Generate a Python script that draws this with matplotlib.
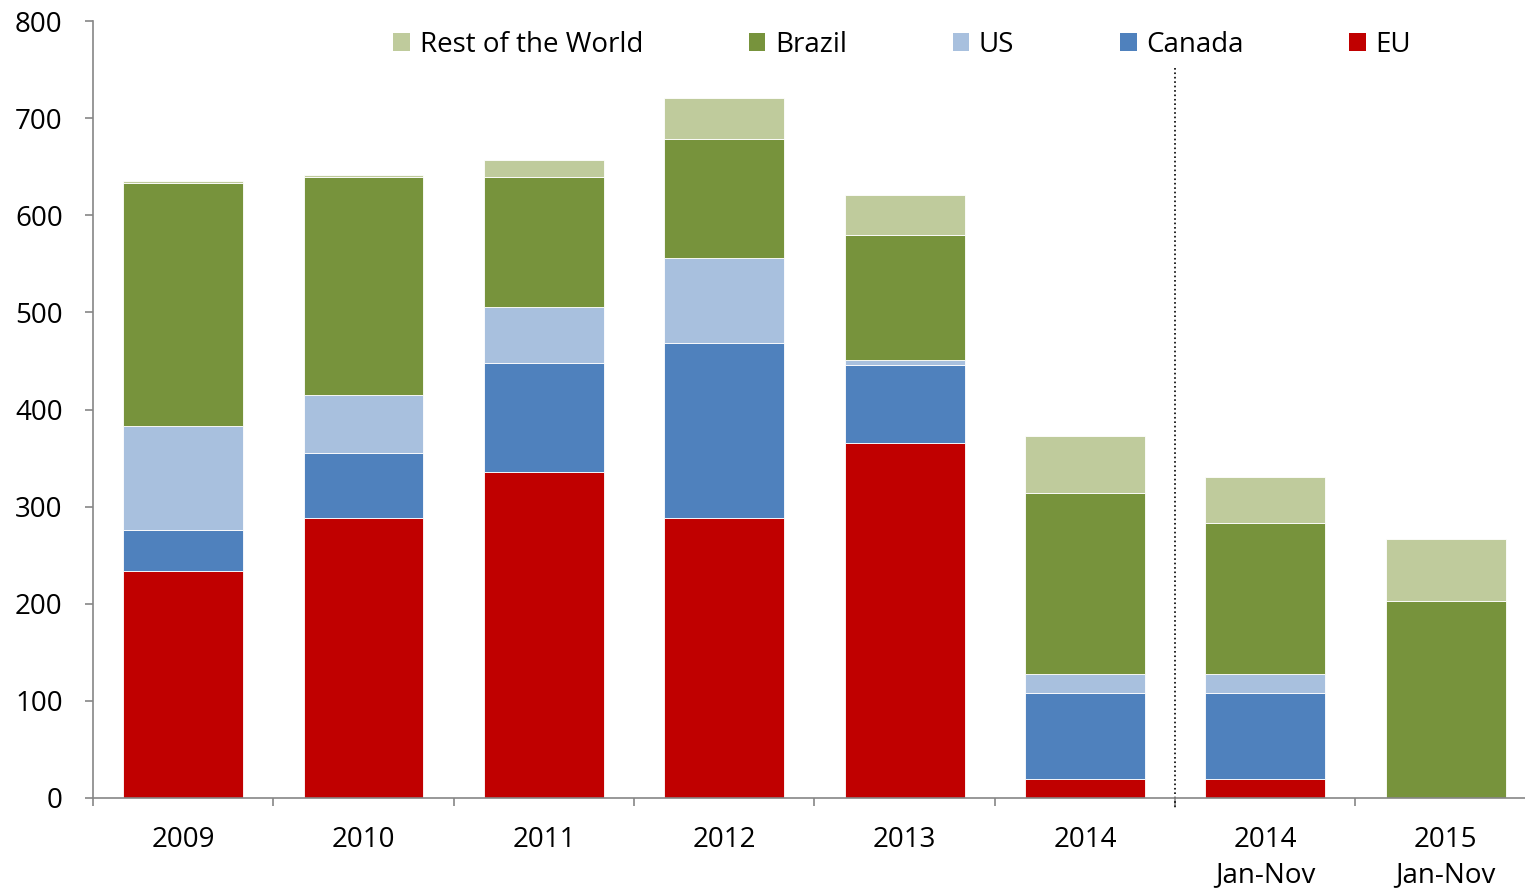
import matplotlib.pyplot as plt
from matplotlib.patches import Patch
import numpy as np

plt.rcParams['font.family'] = ['Open Sans', 'DejaVu Sans']

# categories and stacked series (thousand tonnes)
categories = ['2009', '2010', '2011', '2012', '2013', '2014', '2014\nJan-Nov', '2015\nJan-Nov']
eu = [234, 288, 336, 288, 366, 20, 20, 0]
canada = [42, 67, 112, 180, 80, 88, 88, 0]
us = [107, 60, 58, 88, 5, 20, 20, 0]
brazil = [250, 224, 133, 122, 129, 186, 155, 203]
rest = [2, 2, 18, 43, 41, 59, 47, 64]

series = [('EU', eu, '#C00000'),
          ('Canada', canada, '#4F81BD'),
          ('US', us, '#A8C0DE'),
          ('Brazil', brazil, '#77933C'),
          ('Rest of the World', rest, '#BFCB9C')]

fig = plt.figure(figsize=(15.25, 8.92), dpi=100)
ax = fig.add_axes([93 / 1525, 1 - 798 / 892, 1 - 93 / 1525, 777 / 892])

x = np.arange(len(categories))
bottom = np.zeros(len(categories))
for name, vals, col in series:
    ax.bar(x, vals, 0.665, bottom=bottom, color=col, edgecolor='white', linewidth=0.6, label=name)
    bottom += np.array(vals)

ax.set_xlim(-0.5, 7.44)
ax.set_ylim(0, 800)
ax.set_yticks(range(0, 801, 100))

# boundaries between categories carry the x ticks
ax.set_xticks(np.arange(-0.5, 7.5, 1), minor=True)
ax.set_xticks(x)
ax.set_xticklabels(categories, fontsize=20, linespacing=1.36, va='top')
ax.tick_params(axis='x', which='major', length=0, pad=20)
ax.tick_params(axis='x', which='minor', length=5.8, direction='out', color='#868686', width=1.2)
ax.tick_params(axis='y', length=5.8, direction='out', color='#868686', width=1.2, labelsize=20, pad=16)

for s in ['top', 'right']:
    ax.spines[s].set_visible(False)
for s in ['left', 'bottom']:
    ax.spines[s].set_color('#868686')
    ax.spines[s].set_linewidth(1.2)

# separator between full years and Jan-Nov comparison
ax.plot([5.5, 5.5], [752, -10], color='black', linestyle=':', linewidth=1.2, clip_on=False)

handles = [Patch(facecolor=col, label=name) for name, vals, col in reversed(series)]
ax.legend(handles=handles, ncol=5, loc='upper left', bbox_to_anchor=(0.2, 1.005),
          frameon=False, fontsize=20, handlelength=0.6, handleheight=0.6,
          handletextpad=0.35, columnspacing=3.8, borderaxespad=0.1)

fig.savefig('out.png', dpi=100)
